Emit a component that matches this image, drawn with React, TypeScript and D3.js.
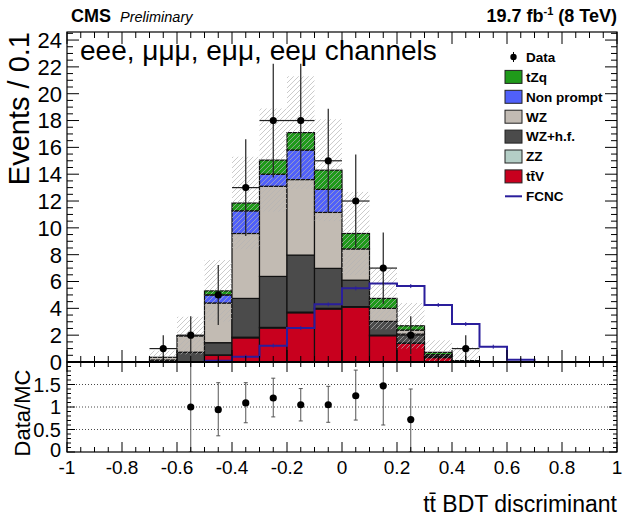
import React, { useRef, useEffect } from 'react';
import * as d3 from 'd3';

// bin lower edges, width 0.1
const binLow = [-1, -0.9, -0.8, -0.7, -0.6, -0.5, -0.4, -0.3, -0.2, -0.1, 0, 0.1, 0.2, 0.3, 0.4, 0.5, 0.6, 0.7, 0.8, 0.9];

// stacked backgrounds, bottom to top
const ttV = [0, 0, 0, 0, 0, 0.5, 1.8, 2.53, 3.67, 3.95, 4.08, 1.96, 1.39, 0.33, 0.05, 0, 0, 0, 0, 0];
const zz = [0, 0, 0, 0.02, 0.03, 0.03, 0.05, 0.05, 0.05, 0.05, 0.05, 0.04, 0.03, 0.02, 0, 0, 0, 0, 0, 0];
const wzHf = [0, 0, 0, 0.13, 0.7, 0.91, 2.89, 3.8, 4.25, 2.98, 1.97, 1.03, 0.66, 0.1, 0.03, 0, 0, 0, 0, 0];
const wz = [0, 0, 0, 0.2, 1.22, 2.96, 4.84, 6.72, 5.63, 4.17, 2.33, 0.97, 0.3, 0.1, 0.01, 0, 0, 0, 0, 0];
const nonPrompt = [0, 0, 0, 0, 0, 0.6, 1.69, 0.9, 2.2, 1.72, 0, 0, 0, 0, 0, 0, 0, 0, 0, 0];
const tZq = [0, 0, 0, 0, 0.02, 0.3, 0.58, 1.05, 1.3, 1.43, 1.15, 0.74, 0.32, 0.17, 0.01, 0, 0, 0, 0, 0];
// MC uncertainty (half height of hatched band)
const mcErr = [0, 0, 0, 0.5, 1.4, 2.3, 3.45, 3.85, 4.2, 3.8, 3.1, 2.3, 1.7, 0.9, 1.0, 0, 0, 0, 0, 0];

const fcnc = [0, 0, 0, 0, 0, 0.1, 0.4, 1.22, 2.53, 4.3, 5.49, 5.86, 5.66, 4.25, 2.83, 1.14, 0.17, 0, 0, 0];

const data = [0, 0, 0, 1, 2, 5, 13, 18, 18, 15, 12, 7, 2, 0, 1, 0, 0, 0, 0, 0];
const dataErr = [0, 0, 0, 1, 1.41, 2.24, 3.6, 4.24, 4.24, 3.87, 3.46, 2.65, 1.41, 0, 1, 0, 0, 0, 0, 0];

// ratio panel (bins 4..12)
const ratioBin = [4, 5, 6, 7, 8, 9, 10, 11, 12];
const ratio = [1.0, 0.94, 1.09, 1.2, 1.05, 1.05, 1.25, 1.47, 0.72];
const ratioLo = [0, 0.36, 0.65, 0.78, 0.69, 0.66, 0.71, 0.6, 0];
const ratioHi = [2.2, 1.54, 1.54, 1.64, 1.41, 1.46, 1.82, 2.05, 1.4];

const xTicks = [-1, -0.8, -0.6, -0.4, -0.2, 0, 0.2, 0.4, 0.6, 0.8, 1];
const yTicks = [0, 2, 4, 6, 8, 10, 12, 14, 16, 18, 20, 22, 24];
const ratioTicks = [0, 0.5, 1, 1.5];

const layers = [
  { name: 'ttV', values: ttV, color: '#c8001e' },
  { name: 'ZZ', values: zz, color: '#b4cec6' },
  { name: 'WZ+h.f.', values: wzHf, color: '#4b4b4b' },
  { name: 'WZ', values: wz, color: '#c2bbb3' },
  { name: 'Non prompt', values: nonPrompt, color: '#5060fa' },
  { name: 'tZq', values: tZq, color: '#1f9a1a' },
];

const FONT = "'Liberation Sans', Arial, Helvetica, sans-serif";

const App: React.FC = () => {
  const ref = useRef<SVGSVGElement | null>(null);

  useEffect(() => {
    if (!ref.current) return;
    const svg = d3.select(ref.current);
    const width = 629;
    const height = 528;
    svg.attr('width', width).attr('height', height);
    svg.selectAll('*').remove();

    const left = 67, right = 617;
    const mainTop = 32, mainBottom = 362;
    const ratioTop = 362, ratioBottom = 452;

    const x = d3.scaleLinear().domain([-1, 1]).range([left, right]);
    const y = d3.scaleLinear().domain([0, 24.6]).range([mainBottom, mainTop]);
    const yr = d3.scaleLinear().domain([0, 2]).range([ratioBottom, ratioTop]);

    svg.append('rect').attr('width', width).attr('height', height).attr('fill', 'white');

    const defs = svg.append('defs');
    const pat = defs.append('pattern')
      .attr('id', 'hatch').attr('patternUnits', 'userSpaceOnUse')
      .attr('width', 5).attr('height', 5);
    pat.append('path')
      .attr('d', 'M0,5 L5,0 M-1,1 L1,-1 M4,6 L6,4')
      .attr('stroke', '#b4b4b4').attr('stroke-width', 0.7);
    defs.append('clipPath').attr('id', 'clipMain').append('rect')
      .attr('x', left).attr('y', mainTop).attr('width', right - left).attr('height', mainBottom - mainTop);
    defs.append('clipPath').attr('id', 'clipRatio').append('rect')
      .attr('x', left).attr('y', ratioTop).attr('width', right - left).attr('height', ratioBottom - ratioTop);

    const main = svg.append('g').attr('clip-path', 'url(#clipMain)');

    // stacked histograms
    binLow.forEach((lo, i) => {
      let base = 0;
      layers.forEach(l => {
        const v = l.values[i];
        if (v > 0) {
          main.append('rect')
            .attr('x', x(lo)).attr('width', x(lo + 0.1) - x(lo))
            .attr('y', y(base + v)).attr('height', y(base) - y(base + v))
            .attr('fill', l.color).attr('stroke', '#111').attr('stroke-width', 1.2);
        }
        base += v;
      });
    });

    // uncertainty band
    binLow.forEach((lo, i) => {
      const e = mcErr[i];
      if (e <= 0) return;
      const tot = layers.reduce((s, l) => s + l.values[i], 0);
      const lo2 = Math.max(0, tot - e);
      main.append('rect')
        .attr('x', x(lo)).attr('width', x(lo + 0.1) - x(lo))
        .attr('y', y(tot + e)).attr('height', y(lo2) - y(tot + e))
        .attr('fill', 'url(#hatch)');
    });

    // FCNC signal line
    const fIdx = d3.range(4, 17);
    const fPts: [number, number][] = fIdx.map(i => [binLow[i], fcnc[i]]);
    fPts.push([binLow[16] + 0.1, 0]);
    const stepLine = d3.line<[number, number]>()
      .x(d => x(d[0])).y(d => y(d[1])).curve(d3.curveStepAfter);
    main.append('path').attr('d', stepLine(fPts) as string)
      .attr('fill', 'none').attr('stroke', '#2a1e9c').attr('stroke-width', 2);
    fIdx.forEach(i => {
      if (fcnc[i] <= 0) return;
      const cx = x(binLow[i] + 0.05);
      main.append('line').attr('x1', cx).attr('x2', cx)
        .attr('y1', y(fcnc[i]) - 2).attr('y2', y(fcnc[i]) + 2)
        .attr('stroke', '#2a1e9c').attr('stroke-width', 1);
    });

    // data points
    binLow.forEach((lo, i) => {
      const d = data[i];
      if (d <= 0) return;
      const cx = x(lo + 0.05);
      main.append('line').attr('x1', x(lo)).attr('x2', x(lo + 0.1))
        .attr('y1', y(d)).attr('y2', y(d)).attr('stroke', '#222').attr('stroke-width', 1.2);
      main.append('line').attr('x1', cx).attr('x2', cx)
        .attr('y1', y(d + dataErr[i])).attr('y2', y(Math.max(0, d - dataErr[i])))
        .attr('stroke', '#222').attr('stroke-width', 1.2);
      main.append('circle').attr('cx', cx).attr('cy', y(d)).attr('r', 3.6).attr('fill', '#000');
    });

    // ratio panel
    const ratioG = svg.append('g').attr('clip-path', 'url(#clipRatio)');
    [0.5, 1, 1.5].forEach(v => {
      ratioG.append('line').attr('x1', left).attr('x2', right)
        .attr('y1', yr(v)).attr('y2', yr(v))
        .attr('stroke', '#333').attr('stroke-width', 0.9).attr('stroke-dasharray', '1,2');
    });
    ratioBin.forEach((b, k) => {
      const cx = x(binLow[b] + 0.05);
      ratioG.append('line').attr('x1', cx).attr('x2', cx)
        .attr('y1', yr(ratioHi[k])).attr('y2', yr(ratioLo[k]))
        .attr('stroke', '#555').attr('stroke-width', 1);
      [ratioHi[k], ratioLo[k]].forEach(v => {
        ratioG.append('line').attr('x1', cx - 2).attr('x2', cx + 2)
          .attr('y1', yr(v)).attr('y2', yr(v)).attr('stroke', '#555').attr('stroke-width', 1);
      });
      ratioG.append('circle').attr('cx', cx).attr('cy', yr(ratio[k])).attr('r', 3.6).attr('fill', '#000');
    });

    // frames
    const axes = svg.append('g').attr('stroke', '#000').attr('fill', 'none');
    axes.append('rect').attr('x', left).attr('y', mainTop).attr('width', right - left)
      .attr('height', mainBottom - mainTop).attr('stroke-width', 1.2);
    axes.append('rect').attr('x', left).attr('y', ratioTop).attr('width', right - left)
      .attr('height', ratioBottom - ratioTop).attr('stroke-width', 1.2);
    axes.append('line').attr('x1', left).attr('x2', right).attr('y1', mainBottom).attr('y2', mainBottom)
      .attr('stroke-width', 2.2);

    const tick = (x1: number, y1: number, x2: number, y2: number) =>
      axes.append('line').attr('x1', x1).attr('y1', y1).attr('x2', x2).attr('y2', y2).attr('stroke-width', 1);

    // x ticks
    d3.range(0, 41).forEach(k => {
      const v = -1 + k * 0.05;
      const major = k % 4 === 0;
      const px = x(v);
      tick(px, mainBottom, px, mainBottom - (major ? 12 : 6));
      tick(px, mainTop, px, mainTop + (major ? 12 : 6));
      tick(px, ratioTop, px, ratioTop + (major ? 10 : 5));
      tick(px, ratioBottom, px, ratioBottom - (major ? 10 : 5));
    });
    // main y ticks
    d3.range(0, 50).forEach(k => {
      const v = k * 0.5;
      if (v > 24.6) return;
      const major = k % 4 === 0;
      const py = y(v);
      tick(left, py, left + (major ? 12 : 6), py);
      tick(right, py, right - (major ? 12 : 6), py);
    });
    // ratio y ticks
    d3.range(0, 21).forEach(k => {
      const v = k * 0.1;
      const major = k % 5 === 0;
      const py = yr(v);
      tick(left, py, left + (major ? 8 : 4), py);
      tick(right, py, right - (major ? 8 : 4), py);
    });

    const txt = svg.append('g').attr('font-family', FONT).attr('fill', '#000');

    yTicks.forEach(v => {
      txt.append('text').attr('x', 62).attr('y', y(v)).attr('dy', '0.36em')
        .attr('text-anchor', 'end').attr('font-size', 22).text(v);
    });
    ratioTicks.forEach(v => {
      txt.append('text').attr('x', 61).attr('y', yr(v) - (v === 0 ? 2 : 0)).attr('dy', '0.36em')
        .attr('text-anchor', 'end').attr('font-size', 20).text(v);
    });
    xTicks.forEach(v => {
      txt.append('text').attr('x', x(v)).attr('y', 474)
        .attr('text-anchor', 'middle').attr('font-size', 19).text(String(Math.round(v * 10) / 10));
    });

    // axis titles
    txt.append('text').attr('transform', 'translate(29,32) rotate(-90)')
      .attr('text-anchor', 'end').attr('font-size', 29).text('Events / 0.1');
    txt.append('text').attr('transform', 'translate(30,413) rotate(-90)')
      .attr('text-anchor', 'middle').attr('font-size', 22).text('Data/MC');
    txt.append('text').attr('x', 617).attr('y', 512)
      .attr('text-anchor', 'end').attr('font-size', 23).text('tt\u0304 BDT discriminant');

    // header
    txt.append('text').attr('x', 71).attr('y', 22).attr('font-size', 18).attr('font-weight', 'bold').text('CMS');
    txt.append('text').attr('x', 120).attr('y', 22).attr('font-size', 14.5).attr('font-style', 'italic').text('Preliminary');
    const lumi = txt.append('text').attr('x', 617).attr('y', 22).attr('text-anchor', 'end')
      .attr('font-size', 18).attr('font-weight', 'bold');
    lumi.append('tspan').text('19.7 fb');
    lumi.append('tspan').attr('font-size', 11).attr('dy', -7).text('-1');
    lumi.append('tspan').attr('dy', 7).text(' (8 TeV)');

    txt.append('text').attr('x', 80).attr('y', 60).attr('font-size', 28)
      .text('eee, \u03bc\u03bc\u03bc, e\u03bc\u03bc, ee\u03bc channels');

    // legend
    const lg = svg.append('g').attr('font-family', FONT);
    const entries = [
      { label: 'Data', kind: 'data', color: '#000' },
      { label: 'tZq', kind: 'box', color: layers[5].color },
      { label: 'Non prompt', kind: 'box', color: layers[4].color },
      { label: 'WZ', kind: 'box', color: layers[3].color },
      { label: 'WZ+h.f.', kind: 'box', color: layers[2].color },
      { label: 'ZZ', kind: 'box', color: layers[1].color },
      { label: 'tt\u0304V', kind: 'box', color: layers[0].color },
      { label: 'FCNC', kind: 'line', color: '#2a1e9c' },
    ];
    entries.forEach((e, k) => {
      const cy = 57 + k * 19.9;
      if (e.kind === 'data') {
        lg.append('line').attr('x1', 513.5).attr('x2', 513.5).attr('y1', cy - 5).attr('y2', cy + 5)
          .attr('stroke', '#000').attr('stroke-width', 1);
        lg.append('circle').attr('cx', 513.5).attr('cy', cy).attr('r', 3.2).attr('fill', '#000');
      } else if (e.kind === 'box') {
        lg.append('rect').attr('x', 505).attr('y', cy - 6.5).attr('width', 17).attr('height', 13)
          .attr('fill', e.color).attr('stroke', '#222').attr('stroke-width', 1);
      } else {
        lg.append('line').attr('x1', 505).attr('x2', 522).attr('y1', cy).attr('y2', cy)
          .attr('stroke', e.color).attr('stroke-width', 2);
      }
      lg.append('text').attr('x', 526).attr('y', cy).attr('dy', '0.36em')
        .attr('font-size', 13.5).attr('font-weight', 'bold').text(e.label);
    });
  }, []);

  return <svg ref={ref} style={{ position: 'absolute', left: 0, top: 0 }}></svg>;
};

export default App;
